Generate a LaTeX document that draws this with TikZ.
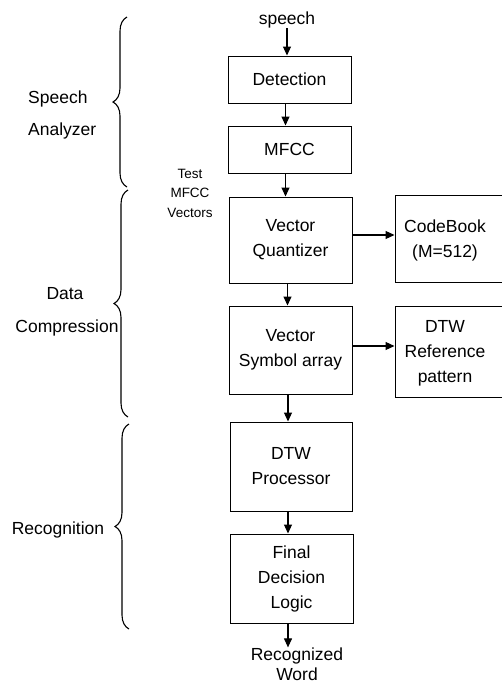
\documentclass[tikz,border=0pt]{standalone}
\usepackage{fontspec}
\setmainfont{Liberation Sans}
\usetikzlibrary{arrows.meta,decorations.pathreplacing}
\begin{document}
\begin{tikzpicture}[x=1pt,y=-1pt,
  box/.style={draw,line width=1pt,inner sep=0pt,align=center,font=\fontsize{17.5}{25}\selectfont},
  lbl/.style={inner sep=0pt,font=\fontsize{17.5}{25}\selectfont},
  small/.style={inner sep=0pt,align=center,font=\fontsize{13.5}{19.5}\selectfont},
  arr/.style={line width=1.1pt,-{Triangle[length=9pt,width=8pt]}},
  brc/.style={line width=1.1pt,decorate,decoration={brace,amplitude=14pt,aspect=0.5}}]
\useasboundingbox (0,0) rectangle (502,686);
% boxes
\node[box,minimum width=123pt,minimum height=47pt] (det) at (289.5,79.5) {Detection};
\node[box,minimum width=123pt,minimum height=47pt] (mfcc) at (289.5,149.5) {MFCC};
\node[box,minimum width=123pt,minimum height=86pt] (vq) at (290.5,240) {Vector\\Quantizer};
\node[box,minimum width=123pt,minimum height=88pt] (vsa) at (290.5,350) {Vector\\Symbol array};
\node[box,minimum width=122pt,minimum height=89pt] (dtwp) at (291,466.5) {DTW\\Processor};
\node[box,minimum width=123pt,minimum height=89pt] (fdl) at (291.5,578.5) {Final\\Decision\\Logic};
\node[box,minimum width=110pt,minimum height=87pt] (cb) at (450,238.5) {};
\node[lbl,align=center] (cbt) at (445,240) {CodeBook\\(M=512)};
\node[box,minimum width=110pt,minimum height=91pt] (ref) at (450,351.5) {};
\node[lbl,align=center] (reft) at (445,353) {DTW\\Reference\\pattern};
% terminal texts
\node[lbl] (sp) at (287,20) {speech};
\node[lbl,align=center] (rw) at (297,664) {Recognized\\[-5pt]Word};
\node[small] (tmv) at (190,193) {Test\\MFCC\\Vectors};
% side labels
\node[lbl,anchor=west] (sa1) at (28,99) {Speech};
\node[lbl,anchor=west] (sa2) at (28,131) {Analyzer};
\node[lbl] (dc1) at (65,294) {Data};
\node[lbl] (dc2) at (67,328) {Compression};
\node[lbl] (rec) at (58,530) {Recognition};
% braces
\coordinate (b1s) at (127,187); \coordinate (b1e) at (127,17);
\coordinate (b2s) at (128,417); \coordinate (b2e) at (128,190);
\coordinate (b3s) at (129,629); \coordinate (b3e) at (129,424);
\draw[brc] (b1s) -- (b1e);
\draw[brc] (b2s) -- (b2e);
\draw[brc] (b3s) -- (b3e);
% arrows
\coordinate (x1) at (287,0);
\coordinate (x2) at (285.5,0);
\coordinate (x3) at (287.5,0);
\coordinate (x4) at (288,0);
\draw[arr] (sp.south -| x1) -- (det.north -| x1);
\draw[arr] (det.south -| x2) -- (mfcc.north -| x2);
\draw[arr] (mfcc.south -| x2) -- (vq.north -| x2);
\draw[arr] (vq.south -| x3) -- (vsa.north -| x3);
\draw[arr] (vsa.south -| x4) -- (dtwp.north -| x4);
\draw[arr] (dtwp.south -| x4) -- (fdl.north -| x4);
\draw[arr] (fdl.south -| x4) -- (rw.north -| x4);
\coordinate (y1) at (0,235);
\coordinate (y2) at (0,346);
\draw[arr] (vq.east |- y1) -- (cb.west |- y1);
\draw[arr] (vsa.east |- y2) -- (ref.west |- y2);
\end{tikzpicture}
\end{document}
